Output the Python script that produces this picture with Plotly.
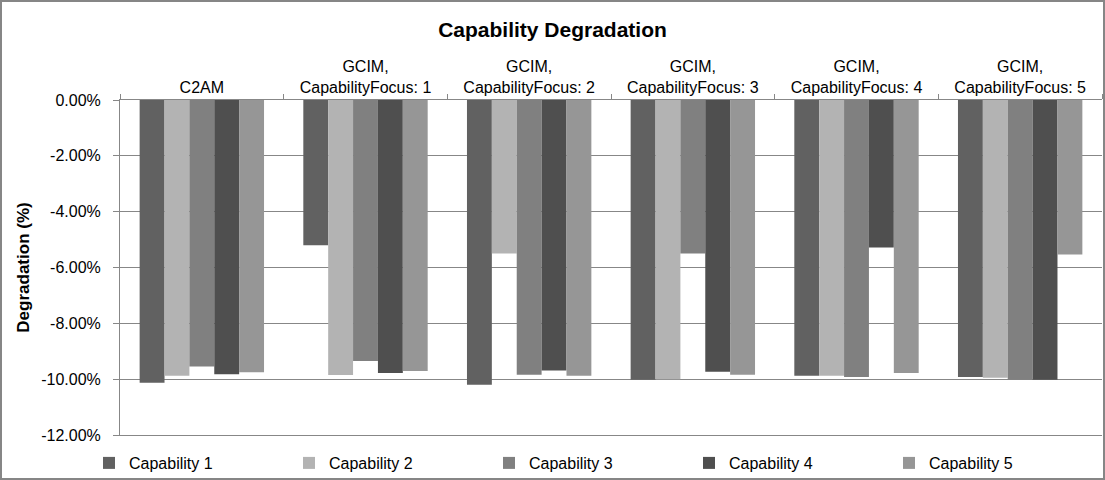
import plotly.graph_objects as go

categories = ["C2AM", "GCIM,<br>CapabilityFocus: 1", "GCIM,<br>CapabilityFocus: 2",
              "GCIM,<br>CapabilityFocus: 3", "GCIM,<br>CapabilityFocus: 4", "GCIM,<br>CapabilityFocus: 5"]
series_names = ["Capability 1", "Capability 2", "Capability 3", "Capability 4", "Capability 5"]
cap1 = [-10.13, -5.20, -10.20, -10.02, -9.88, -9.92]
cap2 = [-9.88, -9.85, -5.50, -10.00, -9.88, -9.95]
cap3 = [-9.55, -9.35, -9.84, -5.50, -9.92, -10.02]
cap4 = [-9.82, -9.78, -9.69, -9.73, -5.28, -10.02]
cap5 = [-9.75, -9.71, -9.88, -9.84, -9.78, -5.53]
series_values = [cap1, cap2, cap3, cap4, cap5]
colors = ["#616161", "#b3b3b3", "#808080", "#4f4f4f", "#969696"]
ytick_vals = [0, -2, -4, -6, -8, -10, -12]
ytick_text = ["0.00%", "-2.00%", "-4.00%", "-6.00%", "-8.00%", "-10.00%", "-12.00%"]

W, H = 1105, 480
ML, MR, MT, MB = 120, 3, 100, 45
PW, PH = W - ML - MR, H - MT - MB
FONT = "Liberation Sans, Arial, sans-serif"
GRID = "#878787"

fig = go.Figure()
for name, vals, col in zip(series_names, series_values, colors):
    fig.add_trace(go.Bar(x=categories, y=vals, name=name, marker=dict(color=col, line=dict(width=0))))

fig.update_layout(
    width=W, height=H,
    margin=dict(l=ML, r=MR, t=MT, b=MB, autoexpand=False),
    paper_bgcolor="white", plot_bgcolor="white",
    barmode="group", bargap=0.24, bargroupgap=0,
    font=dict(family=FONT, size=16, color="black"),
    title=dict(text="<b>Capability Degradation</b>", x=0.5, xanchor="center",
               y=1 - 30 / H, yanchor="middle", font=dict(size=21, family=FONT)),
    showlegend=True,
    legend=dict(orientation="h", x=(89 - ML) / PW, xanchor="left", y=-28 / PH, yanchor="middle",
                entrywidth=155, entrywidthmode="pixels", itemwidth=30,
                font=dict(size=16, family=FONT), bgcolor="rgba(0,0,0,0)", traceorder="normal"),
    xaxis=dict(side="top", type="category", showline=True, linecolor=GRID, linewidth=1,
               mirror=True,
               ticks="outside", tickson="boundaries", ticklen=5, tickcolor=GRID,
               showgrid=False, tickfont=dict(size=16, family=FONT)),
    yaxis=dict(range=[-12, 0], tickvals=ytick_vals, ticktext=ytick_text, showline=True,
               linecolor=GRID, linewidth=1, ticks="outside", ticklen=6, tickcolor=GRID,
               showgrid=True, gridcolor=GRID, gridwidth=1, zeroline=False,
               ticklabelstandoff=9, tickfont=dict(size=16, family=FONT),
               title=dict(text="<b>Degradation (%)</b>", font=dict(size=17, family=FONT), standoff=7)),
    shapes=[dict(type="rect", xref="paper", yref="paper",
                 x0=(1 - ML) / PW, x1=(W - 1 - ML) / PW,
                 y0=-(MB - 1) / PH, y1=1 + (MT - 1) / PH,
                 line=dict(color="#868686", width=2), fillcolor="rgba(0,0,0,0)", layer="above")],
)

fig.write_html("out.html")
